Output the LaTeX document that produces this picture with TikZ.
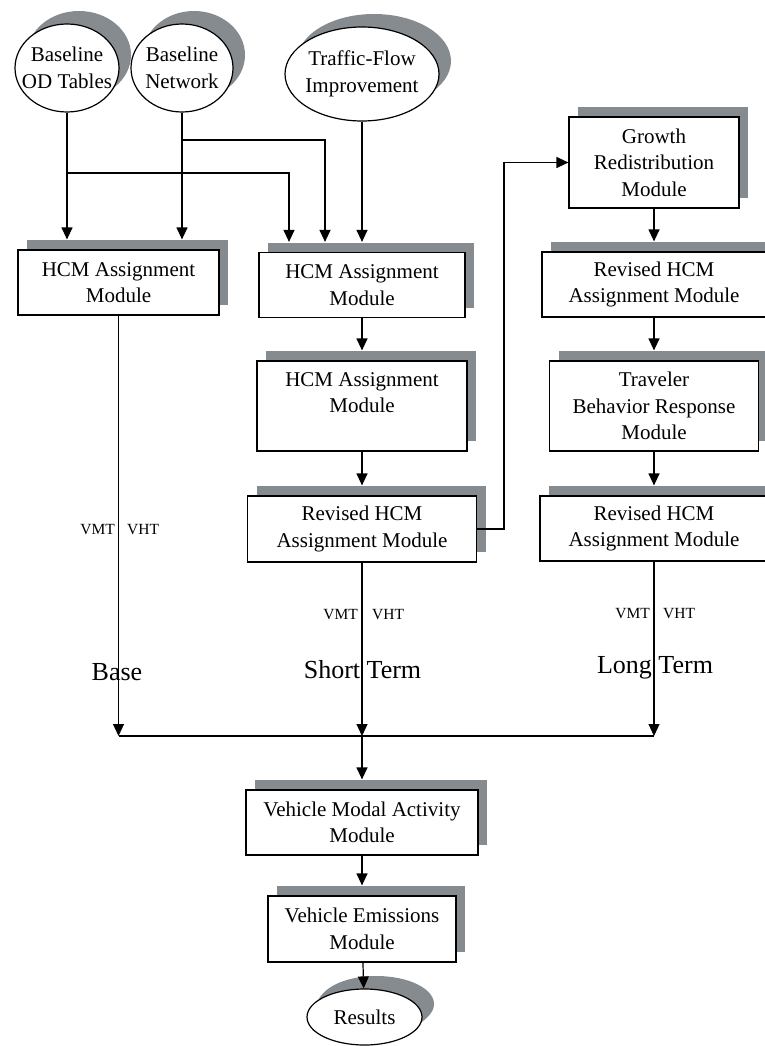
\documentclass[tikz,border=0pt]{standalone}
\usepackage{fontspec}
\setmainfont{Liberation Serif}
\usetikzlibrary{shapes.geometric,shadows,arrows.meta}
\definecolor{shadegray}{RGB}{134,139,144}
\newcommand{\modfont}{\fontsize{21}{26.5}\selectfont}
\newcommand{\tagfont}{\fontsize{15.5}{18}\selectfont}
\newcommand{\termfont}{\fontsize{26}{30}\selectfont}

\begin{document}
\begin{tikzpicture}[x=1pt,y=-1pt,
  module/.style={draw,fill=white,line width=1.2pt,inner sep=0pt,align=center,font=\modfont,
    drop shadow={shadow xshift=9pt,shadow yshift=10pt,fill=shadegray,opacity=1}},
  source/.style={ellipse,draw,fill=white,line width=1.2pt,inner sep=0pt,
    drop shadow={shadow xshift=12pt,shadow yshift=13pt,fill=shadegray,opacity=1}},
  inside/.style={font=\modfont,align=center},
  link/.style={line width=1.2pt},
  flow/.style={link,-{Triangle[length=12pt,width=11pt]}},
  feed/.style={flow,shorten >=10pt},
  tag/.style={font=\tagfont,inner sep=0pt},
  term/.style={font=\termfont,inner sep=0pt}]
\useasboundingbox (0,0) rectangle (764,1046);
% Inputs
\node[source,minimum width=104,minimum height=88,label={[inside]center:{Baseline\\OD Tables}}] (odt) at (67,68) {};
\node[source,minimum width=102,minimum height=88,label={[inside]center:{Baseline\\Network}}] (net) at (182,68) {};
\node[source,minimum width=154,minimum height=94,label={[inside]center:{Traffic-Flow\\Improvement}}] (tfi) at (362,74) {};
% Base
\node[module,minimum width=201,minimum height=65] (hcmA) at (118.5,282.5) {HCM Assignment\\Module};
% Short term
\node[module,minimum width=206,minimum height=65] (hcmB) at (362,285) {HCM Assignment\\Module};
\node[module,minimum width=210,minimum height=90] (hcmC) at (362,406) {HCM Assignment\\Module\\\mbox{}};
\node[module,minimum width=229,minimum height=66] (revB) at (362,529) {Revised HCM\\Assignment Module};
% Long term
\node[module,minimum width=170,minimum height=91] (grow) at (654,162.5) {Growth\\Redistribution\\Module};
\node[module,minimum width=224,minimum height=65] (revR) at (654,284.5) {Revised HCM\\Assignment Module};
\node[module,minimum width=209,minimum height=90] (trav) at (654,406) {Traveler\\Behavior Response\\Module};
\node[module,minimum width=228,minimum height=65] (revL) at (654,528.5) {Revised HCM\\Assignment Module};
% Outputs
\node[module,minimum width=232,minimum height=65] (vma) at (362,822.5) {Vehicle Modal Activity\\Module};
\node[module,minimum width=188,minimum height=66] (vem) at (362,929) {Vehicle Emissions\\Module};
\node[source,minimum width=115,minimum height=56,
  drop shadow={shadow xshift=10pt,shadow yshift=11pt,fill=shadegray,opacity=1},
  label={[inside]center:Results}] (res) at (364.5,1017) {};

\node[tag,anchor=east] (vmtA) at (115,530) {VMT};
\node[tag,anchor=west] (vhtA) at (127,530) {VHT};
\node[tag,anchor=east] (vmtB) at (358,615) {VMT};
\node[tag,anchor=west] (vhtB) at (372,615) {VHT};
\node[tag,anchor=east] (vmtL) at (650,614) {VMT};
\node[tag,anchor=west] (vhtL) at (663,614) {VHT};
\node[term] (base) at (117,672) {Base};
\node[term] (short) at (362.5,670) {Short Term};
\node[term] (long) at (655,668) {Long Term};

\coordinate (odtJ) at (67,173);
\coordinate (netJ) at (182,140);
\coordinate (loopX) at (504,0);
\coordinate (mrg) at (362,736);

\draw[feed] (odt) -- (hcmA.north -| odt);
\draw[feed] (net) -- (hcmA.north -| net);
\draw[feed] (odtJ) -| ([xshift=-73pt]hcmB.north);
\draw[feed] (netJ) -| ([xshift=-37pt]hcmB.north);
\draw[feed] (tfi) -- (hcmB.north -| tfi);
\draw[feed] (hcmB) -- (hcmC);
\draw[feed] (hcmC) -- (revB);
\draw[flow] (revB.east) -- (revB.east -| loopX) |- (grow.west);
\draw[feed] (grow) -- (revR);
\draw[feed] (revR) -- (trav);
\draw[feed] (trav) -- (revL);
% Merge
\draw[flow] (hcmA) -- (hcmA |- mrg);
\draw[flow] (revB) -- (mrg);
\draw[flow] (revL) -- (revL |- mrg);
\draw[link] (hcmA |- mrg) -- (revL |- mrg);
\draw[feed] (mrg) -- (vma);
\draw[feed] (vma) -- (vem);
\draw[flow] (vem) -- (res);
\end{tikzpicture}
\end{document}
